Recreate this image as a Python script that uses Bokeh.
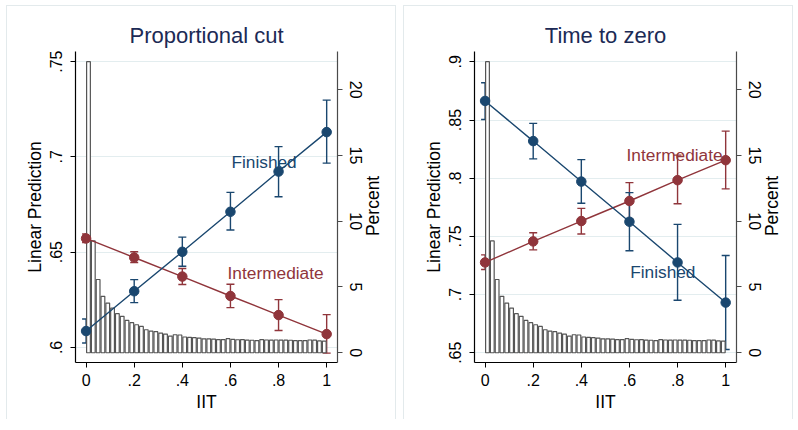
import math
from bokeh.plotting import figure
from bokeh.models import Range1d, LinearAxis, FixedTicker, Whisker, TeeHead, ColumnDataSource
from bokeh.layouts import row
from bokeh.embed import file_html
from bokeh.resources import INLINE
from bokeh.core.properties import value

# ---------------- data ----------------
iit = [0.0, 0.2, 0.4, 0.6, 0.8, 1.0]

# Proportional cut
pc_fin = [0.6086, 0.6295, 0.6502, 0.6712, 0.6923, 0.7130]
pc_fin_hi = [0.6149, 0.6356, 0.6579, 0.6814, 0.7054, 0.7298]
pc_fin_lo = [0.6023, 0.6235, 0.6426, 0.6616, 0.6791, 0.6967]
pc_int = [0.6572, 0.6472, 0.6372, 0.6270, 0.6170, 0.6070]
pc_int_hi = [0.6595, 0.6502, 0.6414, 0.6332, 0.6251, 0.6172]
pc_int_lo = [0.6551, 0.6446, 0.6330, 0.6209, 0.6089, 0.5970]

# Time to zero
tz_fin = [0.8664, 0.8319, 0.7971, 0.7626, 0.7276, 0.6931]
tz_fin_hi = [0.8821, 0.8471, 0.8160, 0.7876, 0.7603, 0.7336]
tz_fin_lo = [0.8505, 0.8166, 0.7785, 0.7376, 0.6951, 0.6528]
tz_int = [0.7276, 0.7457, 0.7632, 0.7804, 0.7983, 0.8155]
tz_int_hi = [0.7341, 0.7531, 0.7741, 0.7962, 0.8198, 0.8405]
tz_int_lo = [0.7215, 0.7384, 0.7520, 0.7646, 0.7781, 0.7908]

# histogram of IIT (percent per bin of width 0.02)
hist_pct = [22.13, 8.50, 5.57, 4.29, 3.78, 3.40, 2.97, 2.77, 2.46, 2.29,
            2.13, 2.00, 1.75, 1.65, 1.60, 1.50, 1.42, 1.26, 1.37, 1.35,
            1.20, 1.17, 1.15, 1.12, 1.06, 1.06, 1.04, 1.00, 1.00, 1.07,
            1.02, 0.99, 1.00, 0.96, 0.95, 0.93, 1.00, 0.97, 0.96, 0.97,
            0.96, 0.96, 0.95, 0.93, 0.92, 0.93, 0.97, 0.96, 0.90, 0.88]
bin_width = 0.02
bin_centers = [bin_width * (i + 0.5) for i in range(len(hist_pct))]

x_ticks = [0, 0.2, 0.4, 0.6, 0.8, 1]
x_labels = ["0", ".2", ".4", ".6", ".8", "1"]
pc_ticks = [0.6, 0.65, 0.7, 0.75]
pc_labels = [".6", ".65", ".7", ".75"]
tz_ticks = [0.65, 0.7, 0.75, 0.8, 0.85, 0.9]
tz_labels = [".65", ".7", ".75", ".8", ".85", ".9"]
pct_ticks = [0, 5, 10, 15, 20]

pc_label_x = [0.604, 0.588]
pc_label_y = [0.6975, 0.6393]
tz_label_x = [0.603, 0.588]
tz_label_y = [0.7190, 0.8198]
series_names = ["Finished", "Intermediate"]

BLUE = "#1a476f"
RED = "#90353b"
FONT = "Liberation Sans"
TITLE_C = "#1c2a55"
X_RANGE = (-0.044, 1.045)


def make_panel(title, yr, ticks, labels, fin, fin_hi, fin_lo, intm, int_hi, int_lo,
               lab_x, lab_y, width, mleft):
    p = figure(width=width, height=414, output_backend="svg", toolbar_location=None,
               x_range=Range1d(*X_RANGE), y_range=Range1d(*yr),
               min_border_left=mleft, min_border_right=width - mleft - 262,
               min_border_top=45, min_border_bottom=58,
               background_fill_color="white", border_fill_color="white",
               outline_line_color=None, title=title)
    p.styles = {"border-top": "1px solid #e3eaec", "border-left": "1px solid #e3eaec",
                "border-right": "1px solid #e3eaec"}
    p.title.align = "center"
    p.title.text_font = FONT
    p.title.text_font_size = "22px"
    p.title.text_font_style = "normal"
    p.title.text_color = TITLE_C
    p.title.standoff = 7

    p.extra_y_ranges = {"pct": Range1d(-0.74, 22.9)}

    p.xgrid.grid_line_color = None
    p.ygrid.grid_line_color = "#e3edef"
    p.ygrid.ticker = FixedTicker(ticks=ticks)

    # histogram
    p.vbar(x=bin_centers, top=hist_pct, bottom=0, width=bin_width * 0.78,
           y_range_name="pct", fill_color="white", line_color="#555555", line_width=1.2)

    for vals, hi, lo, col in ((intm, int_hi, int_lo, RED), (fin, fin_hi, fin_lo, BLUE)):
        src = ColumnDataSource(dict(x=iit, y=vals, hi=hi, lo=lo))
        p.add_layout(Whisker(base="x", upper="hi", lower="lo", source=src,
                             line_color=col, line_width=1.4,
                             upper_head=TeeHead(size=8, line_color=col, line_width=1.4),
                             lower_head=TeeHead(size=8, line_color=col, line_width=1.4)))
        p.line("x", "y", source=src, line_color=col, line_width=1.4)
        p.scatter("x", "y", source=src, size=9.5, fill_color=col, line_color=col)

    p.text(x=lab_x[:1], y=lab_y[:1], text=series_names[:1], text_color=BLUE,
           text_font=value(FONT), text_font_size="17.3px",
           text_align="left", text_baseline="middle")
    p.text(x=lab_x[1:], y=lab_y[1:], text=series_names[1:], text_color=RED,
           text_font=value(FONT), text_font_size="17.3px",
           text_align="left", text_baseline="middle")

    # axes
    xa = p.xaxis[0]
    xa.ticker = FixedTicker(ticks=x_ticks)
    xa.major_label_overrides = {t: l for t, l in zip(x_ticks, x_labels)}
    xa.axis_label = "IIT"

    ya = p.yaxis[0]
    ya.ticker = FixedTicker(ticks=ticks)
    ya.major_label_overrides = {t: l for t, l in zip(ticks, labels)}
    ya.axis_label = "Linear Prediction"
    ya.major_label_orientation = "vertical"

    ra = LinearAxis(y_range_name="pct", ticker=FixedTicker(ticks=pct_ticks),
                    axis_label="Percent")
    ra.major_label_orientation = "vertical"
    p.add_layout(ra, "right")

    for ax, lc in ((xa, "black"), (ya, "black"), (ra, "#4a4a4a")):
        ax.axis_line_color = lc
        ax.axis_line_width = 1.2
        ax.major_tick_line_color = lc
        ax.major_tick_in = 0
        ax.major_tick_out = 5
        ax.minor_tick_line_color = None
        ax.major_label_text_font = FONT
        ax.major_label_text_font_size = "16px"
        ax.major_label_text_color = "black"
        ax.major_label_standoff = 8
        ax.axis_label_text_font = FONT
        ax.axis_label_text_font_size = "17.5px"
        ax.axis_label_text_font_style = "normal"
        ax.axis_label_text_color = "black"
        ax.axis_label_standoff = 3
    xa.major_label_standoff = 6
    ra.major_label_standoff = 7

    # right-axis title reading bottom-to-top, as in the original: the rotated
    # label starts at the axis start, so it is padded to sit at mid-height
    if "axis_label_align" in ra.properties():
        ra.axis_label_orientation = math.pi / 2
        ra.axis_label_align = "start"
        ra.axis_label_standoff = 8
        ra.axis_label = "\u00a0" * 26 + "Percent"
    return p


p1 = make_panel("Proportional cut", (0.5921, 0.7553), pc_ticks, pc_labels,
                pc_fin, pc_fin_hi, pc_fin_lo, pc_int, pc_int_hi, pc_int_lo,
                pc_label_x, pc_label_y, 390, 68)
p2 = make_panel("Time to zero", (0.6416, 0.9089), tz_ticks, tz_labels,
                tz_fin, tz_fin_hi, tz_fin_lo, tz_int, tz_int_hi, tz_int_lo,
                tz_label_x, tz_label_y, 390, 70)

layout = row(p1, p2, spacing=7, margin=(5, 0, 0, 6))
open("out.html", "w").write(file_html(layout, INLINE))
